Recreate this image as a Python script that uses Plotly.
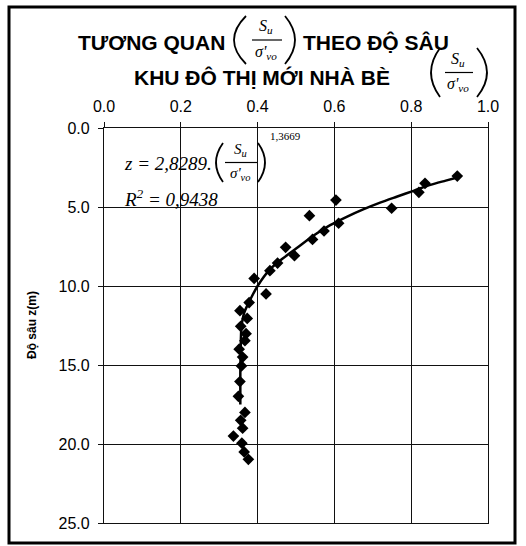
import plotly.graph_objects as go

# ---------------- data ----------------
ratio = [0.920, 0.836, 0.820, 0.604, 0.749, 0.535, 0.611, 0.573, 0.543, 0.473,
         0.496, 0.452, 0.432, 0.391, 0.422, 0.378, 0.354, 0.373, 0.356, 0.370,
         0.367, 0.352, 0.361, 0.358, 0.354, 0.350, 0.367, 0.356, 0.361, 0.337,
         0.359, 0.365, 0.376]
depth = [3.04, 3.50, 4.07, 4.56, 5.08, 5.55, 6.03, 6.52, 7.05, 7.55,
         8.08, 8.55, 9.03, 9.52, 10.50, 11.05, 11.56, 12.05, 12.55, 13.02,
         13.46, 14.00, 14.50, 15.06, 16.05, 16.98, 18.00, 18.50, 19.00, 19.50,
         19.95, 20.50, 20.97]

trend_ratio = [0.925, 0.890, 0.850, 0.806, 0.762, 0.719, 0.675, 0.632, 0.589,
               0.545, 0.502, 0.458, 0.432, 0.400, 0.380, 0.365, 0.358, 0.356,
               0.355, 0.355]
trend_depth = [3.10, 3.33, 3.60, 3.98, 4.35, 4.72, 5.15, 5.62, 6.15,
               6.82, 7.60, 8.40, 8.95, 10.00, 10.90, 11.70, 12.60, 14.00,
               15.50, 17.50]

x_ticks = [0.0, 0.2, 0.4, 0.6, 0.8, 1.0]
y_ticks = [0.0, 5.0, 10.0, 15.0, 20.0, 25.0]

title1_left = "TƯƠNG QUAN"
title1_right = "THEO ĐỘ SÂU"
title2 = "KHU ĐÔ THỊ MỚI NHÀ BÈ"
y_title = "Độ sâu z(m)"
eq_text = "z = 2,8289."
eq_exp = "1,3669"
r2_text = "R<sup>2</sup> = 0,9438"
frac_num = "S<sub>u</sub>"
frac_den = "σ'<sub>vo</sub>"

# ---------------- geometry helpers ----------------
FIG_W, FIG_H = 526, 546
L, R, T, B = 104, 488, 128, 523


def px(x):
    return (x - L) / (R - L)


def py(y):
    return (B - y) / (B - T)


SANS = "Liberation Sans, Arial, sans-serif"
SERIF = "Liberation Serif, Times New Roman, serif"

fig = go.Figure()

fig.add_trace(go.Scatter(
    x=trend_ratio, y=trend_depth, mode="lines",
    line=dict(color="black", width=2.5, shape="spline", smoothing=0.8),
    showlegend=False, hoverinfo="skip"))

fig.add_trace(go.Scatter(
    x=ratio, y=depth, mode="markers",
    marker=dict(symbol="diamond", size=9, color="black"),
    showlegend=False))

shapes = []
annotations = []


def text(t, x, y, size, font=SANS, bold=False, italic=False, xanchor="center", yanchor="middle", angle=0):
    if bold:
        t = "<b>" + t + "</b>"
    if italic:
        t = "<i>" + t + "</i>"
    annotations.append(dict(
        text=t, x=px(x), y=py(y), xref="paper", yref="paper",
        xanchor=xanchor, yanchor=yanchor, showarrow=False, textangle=angle,
        font=dict(family=font, size=size, color="black")))


def paren(x_end, x_mid, y_top, y_bot, width=1.8):
    xc = 2 * x_mid - x_end
    ym = (y_top + y_bot) / 2
    path = "M {:.5f},{:.5f} Q {:.5f},{:.5f} {:.5f},{:.5f}".format(
        px(x_end), py(y_top), px(xc), py(ym), px(x_end), py(y_bot))
    shapes.append(dict(type="path", path=path, xref="paper", yref="paper",
                       line=dict(color="black", width=width)))


def hline(x0, x1, y, width=1.2):
    shapes.append(dict(type="line", x0=px(x0), x1=px(x1), y0=py(y), y1=py(y),
                       xref="paper", yref="paper", line=dict(color="black", width=width)))


def fraction(cx, y_top, y_bot, bar_x0, bar_x1, lp, rp, size):
    ym = (y_top + y_bot) / 2
    text(frac_num, cx, ym - 13 * size / 16, size, font=SERIF, italic=True)
    hline(bar_x0, bar_x1, ym)
    text(frac_den, cx, ym + 12 * size / 16, size, font=SERIF, italic=True)
    paren(lp[0], lp[1], y_top, y_bot)
    paren(rp[0], rp[1], y_top, y_bot)


# outer frame
shapes.append(dict(type="rect", xref="paper", yref="paper",
                   x0=px(9), x1=px(515), y0=py(543), y1=py(7),
                   line=dict(color="black", width=3)))

# titles
text(title1_left, 227, 43, 21, bold=True, xanchor="right")
text(title1_right, 301, 43, 21, bold=True, xanchor="left")
text(title2, 132, 77, 21, bold=True, xanchor="left")
fraction(266, 16, 64, 252, 282, (246, 234), (285, 295), 16)
fraction(458, 48, 97, 445, 473, (440, 431), (477, 487), 16)

# equation in plot
text(eq_text, 122, 163, 19, font=SERIF, italic=True, xanchor="left")
fraction(240, 143, 182, 225, 257, (223, 216), (258, 265), 15)
text(eq_exp, 268, 136, 11, font=SERIF, xanchor="left")
text(r2_text, 122, 198, 19, font=SERIF, italic=True, xanchor="left")

# y title
text(y_title, 32, 325, 12, bold=True, angle=-90)

fig.update_layout(
    width=FIG_W, height=FIG_H,
    margin=dict(l=L, r=FIG_W - R, t=T, b=FIG_H - B, pad=0),
    paper_bgcolor="white", plot_bgcolor="white",
    shapes=shapes, annotations=annotations,
    showlegend=False,
    xaxis=dict(side="top", range=[0, 1], tickvals=x_ticks,
               ticktext=["{:.1f}".format(v) for v in x_ticks],
               showgrid=True, gridcolor="#111", gridwidth=1.3,
               showline=True, linecolor="#111", linewidth=1.3, mirror=True,
               ticks="outside", ticklen=5, tickcolor="#111", tickwidth=1.3,
               ticklabelstandoff=3,
               tickfont=dict(family=SANS, size=16, color="#000"), zeroline=False),
    yaxis=dict(range=[25, 0], tickvals=y_ticks,
               ticktext=["{:.1f}".format(v) for v in y_ticks],
               showgrid=True, gridcolor="#111", gridwidth=1.3,
               showline=True, linecolor="#111", linewidth=1.3, mirror=True,
               ticks="outside", ticklen=5, tickcolor="#111", tickwidth=1.3,
               ticklabelstandoff=5,
               tickfont=dict(family=SANS, size=16, color="#000"), zeroline=False),
)

fig.write_html("out.html", config={"displayModeBar": False},
               post_script="document.body.style.margin='0';document.body.style.padding='0';")
